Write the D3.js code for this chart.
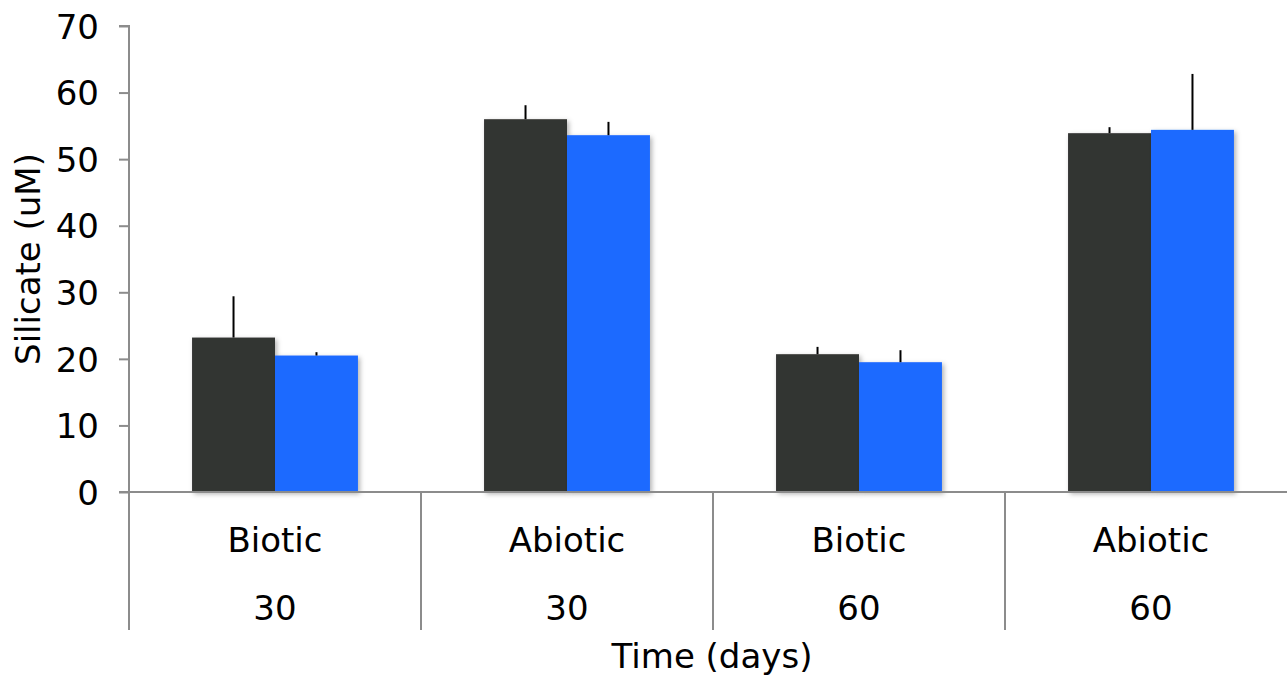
<!DOCTYPE html>
<html>
<head>
<meta charset="utf-8">
<script src="https://cdn.jsdelivr.net/npm/d3@7"></script>
<style>
  html, body { margin: 0; padding: 0; background: #fff; }
  svg { display: block; }
  text { font-family: "DejaVu Sans", sans-serif; fill: #000; }
</style>
</head>
<body>
<svg id="chart" width="1287" height="676"></svg>
<script>
// Silicate concentration by treatment and incubation time
const treatments = ["Biotic", "Abiotic", "Biotic", "Abiotic"];
const days = ["30", "30", "60", "60"];
const seriesA = [23.2, 56.0, 20.7, 53.9];
const seriesAErr = [6.2, 2.1, 1.1, 0.9];
const seriesB = [20.5, 53.6, 19.5, 54.4];
const seriesBErr = [0.5, 2.0, 1.8, 8.4];
const yTicks = [0, 10, 20, 30, 40, 50, 60, 70];
const seriesColors = ["#333432", "#1f6bff"];

const svg = d3.select("#chart");
const margin = { left: 129, top: 26, bottom: 184 };
const W = 1287, H = 676;
const plotBottom = H - margin.bottom;
const fontSize = 34;

const groups = d3.range(treatments.length);
const x = d3.scaleBand().domain(groups).range([margin.left, 1297]).paddingInner(0).paddingOuter(0);
const y = d3.scaleLinear().domain([0, 70]).range([plotBottom, margin.top]);
const inner = d3.scaleBand().domain([0, 1]).range([0, x.bandwidth()]).paddingInner(0).paddingOuter(0.76);

const defs = svg.append("defs");
const f = defs.append("filter").attr("id", "shadow").attr("x", "-20%").attr("y", "-20%").attr("width", "140%").attr("height", "140%");
f.append("feDropShadow").attr("dx", 2).attr("dy", 2).attr("stdDeviation", 2.5).attr("flood-color", "#000").attr("flood-opacity", 0.3);

const axisColor = "#8c8c8c";

// bars
const series = [seriesA, seriesB];
const errs = [seriesAErr, seriesBErr];
series.forEach((vals, s) => {
  svg.append("g").selectAll("rect").data(groups).join("rect")
    .attr("x", i => x(i) + inner(s))
    .attr("y", i => y(vals[i]))
    .attr("width", inner.bandwidth())
    .attr("height", i => y(0) - y(vals[i]))
    .attr("fill", seriesColors[s])
    .attr("filter", "url(#shadow)");
});
// error bars (upper arm only)
series.forEach((vals, s) => {
  svg.append("g").selectAll("line").data(groups).join("line")
    .attr("x1", i => x(i) + inner(s) + inner.bandwidth() / 2)
    .attr("x2", i => x(i) + inner(s) + inner.bandwidth() / 2)
    .attr("y1", i => y(vals[i]))
    .attr("y2", i => y(vals[i] + errs[s][i]))
    .attr("stroke", "#000").attr("stroke-width", 2);
});

// y axis
const yAxis = svg.append("g").attr("transform", `translate(${margin.left},0)`)
  .call(d3.axisLeft(y).tickValues(yTicks).tickSize(10).tickPadding(20).tickFormat(d3.format("d")));
yAxis.select(".domain").attr("stroke", axisColor).attr("stroke-width", 2).attr("d", `M-10,${y(70)}H0V${plotBottom + 138}`);
yAxis.selectAll(".tick line").attr("stroke", axisColor).attr("stroke-width", 2);
yAxis.selectAll(".tick text").attr("font-size", fontSize).attr("font-family", "DejaVu Sans, sans-serif").attr("fill", "#000").attr("dy", "0.36em");

// x baseline and category separators
svg.append("line").attr("x1", margin.left - 10).attr("x2", W).attr("y1", plotBottom).attr("y2", plotBottom)
  .attr("stroke", axisColor).attr("stroke-width", 2);
svg.append("g").selectAll("line").data(groups.slice(1)).join("line")
  .attr("x1", i => x(i)).attr("x2", i => x(i))
  .attr("y1", plotBottom).attr("y2", plotBottom + 138)
  .attr("stroke", axisColor).attr("stroke-width", 2);

// category labels (two rows)
svg.append("g").selectAll("text").data(groups).join("text")
  .attr("x", i => x(i) + x.bandwidth() / 2).attr("y", 552)
  .attr("text-anchor", "middle").attr("font-size", fontSize)
  .text(i => treatments[i]);
svg.append("g").selectAll("text").data(groups).join("text")
  .attr("x", i => x(i) + x.bandwidth() / 2).attr("y", 620)
  .attr("text-anchor", "middle").attr("font-size", fontSize)
  .text(i => days[i]);

// axis titles
svg.append("text").attr("x", 712).attr("y", 668).attr("text-anchor", "middle").attr("font-size", fontSize).text("Time (days)");
svg.append("text").attr("transform", `translate(40,${(y(0) + y(70)) / 2}) rotate(-90)`)
  .attr("text-anchor", "middle").attr("font-size", fontSize).text("Silicate (uM)");
</script>
</body>
</html>
